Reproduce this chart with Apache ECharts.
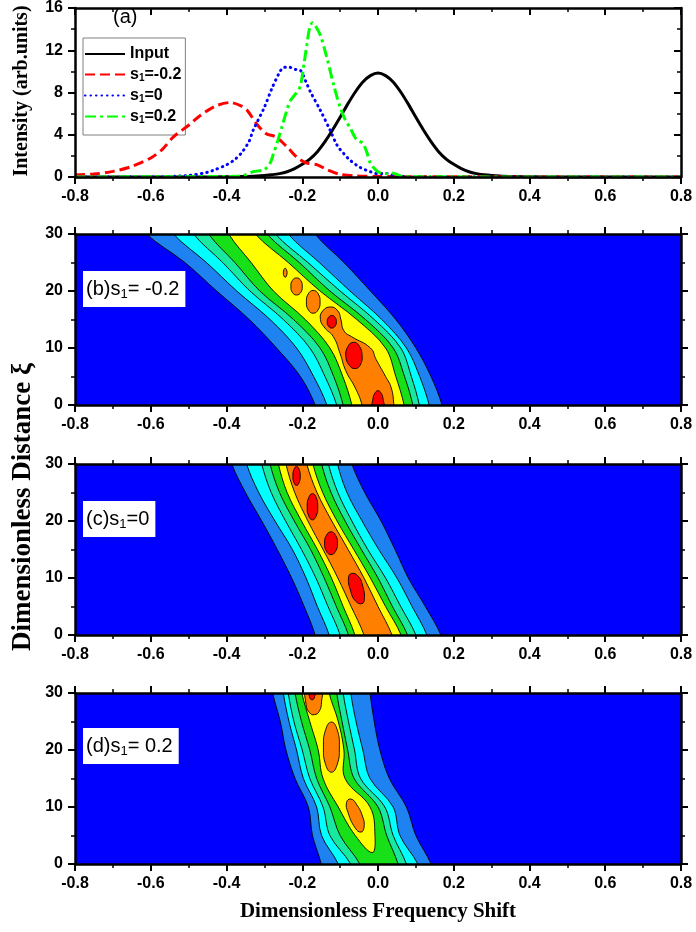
<!DOCTYPE html>
<html><head><meta charset="utf-8">
<script src="https://cdn.jsdelivr.net/npm/echarts/dist/echarts.min.js"></script>
<style>html,body{margin:0;padding:0;background:#fff}#c{width:696px;height:932px}</style>
</head><body><div id="c"></div>
<script>
// ---------- Panel (a) curves: [frequency shift, intensity] ----------
const inputCurve = [[-0.8,0],[-0.5,0],[-0.4,0.02],[-0.36,0.05],[-0.32,0.1],[-0.3,0.15],[-0.28,0.22],[-0.26,0.32],[-0.24,0.5],[-0.22,0.8],[-0.2,1.2],[-0.18,1.7],[-0.16,2.4],[-0.14,3.35],[-0.12,4.45],[-0.1,5.65],[-0.08,6.9],[-0.06,8.05],[-0.04,9.0],[-0.02,9.6],[0,9.85],[0.02,9.6],[0.04,9.0],[0.06,8.05],[0.08,6.9],[0.1,5.65],[0.12,4.45],[0.14,3.35],[0.16,2.4],[0.18,1.7],[0.2,1.2],[0.22,0.8],[0.24,0.5],[0.26,0.32],[0.28,0.22],[0.3,0.15],[0.32,0.1],[0.36,0.05],[0.4,0.02],[0.5,0],[0.8,0]];
const sNeg02Curve = [[-0.8,0.2],[-0.75,0.28],[-0.7,0.53],[-0.65,1.0],[-0.6,1.8],[-0.57,2.6],[-0.54,3.8],[-0.5,4.9],[-0.47,5.8],[-0.43,6.7],[-0.39,7.05],[-0.36,6.7],[-0.345,6.3],[-0.32,5.0],[-0.295,4.1],[-0.27,3.8],[-0.24,2.85],[-0.215,1.9],[-0.19,1.35],[-0.16,1.15],[-0.135,0.7],[-0.1,0.25],[-0.06,0.1],[0,0.05],[0.1,0.02],[0.8,0]];
const sZeroCurve = [[-0.8,0],[-0.6,0],[-0.5,0.15],[-0.45,0.45],[-0.43,0.7],[-0.4,1.15],[-0.38,1.6],[-0.36,2.3],[-0.34,3.4],[-0.33,4.4],[-0.3,6.6],[-0.28,8.4],[-0.26,9.9],[-0.25,10.35],[-0.235,10.4],[-0.22,10.2],[-0.205,10.1],[-0.19,9.0],[-0.179,8.1],[-0.152,6.3],[-0.126,4.4],[-0.108,3.0],[-0.09,2.2],[-0.074,1.6],[-0.047,0.9],[-0.02,0.5],[0,0.3],[0.02,0.35],[0.04,0.15],[0.07,0.03],[0.1,0],[0.8,0]];
const sPos02Curve = [[-0.8,0],[-0.4,0.05],[-0.36,0.1],[-0.33,0.5],[-0.3,0.7],[-0.285,1.3],[-0.276,2.2],[-0.265,3.4],[-0.254,4.7],[-0.24,6.4],[-0.232,7.2],[-0.215,8.0],[-0.205,8.6],[-0.195,10.8],[-0.188,12.5],[-0.18,14.2],[-0.173,14.6],[-0.165,14.3],[-0.152,13.4],[-0.135,11.3],[-0.117,8.7],[-0.1,6.6],[-0.085,5.3],[-0.074,4.7],[-0.06,3.7],[-0.05,3.4],[-0.04,3.2],[-0.03,2.4],[-0.02,1.3],[0,0.5],[0.02,0.3],[0.04,0.35],[0.06,0.1],[0.1,0.02],[0.8,0]];
const seriesNames = ['Input','s1=-0.2','s1=0','s1=0.2'];

// ---------- Contour panels: rows of distance xi and level boundaries (frequency shift) ----------
const xiRows = [0,5,10,15,20,25,30];
const levelColors = ['#1E82F0','#00FFFF','#18E8A0','#18E018','#FFFF00','#FF8000','#FF0000'];
const bgColor = '#0000FF';

// (b) s1 = -0.2
const bMidblueL = [-0.166,-0.205,-0.268,-0.34,-0.426,-0.51,-0.611];
const bMidblueR = [0.169,0.14,0.10,0.047,-0.02,-0.09,-0.166];
const bCyanL = [-0.135,-0.17,-0.215,-0.285,-0.373,-0.453,-0.54];
const bCyanR = [0.135,0.11,0.075,0.01,-0.074,-0.155,-0.237];
const bMintL = [-0.109,-0.14,-0.18,-0.25,-0.338,-0.41,-0.487];
const bMintR = [0.109,0.088,0.06,-0.01,-0.1,-0.185,-0.271];
const bGreenL = [-0.092,-0.117,-0.153,-0.223,-0.312,-0.378,-0.447];
const bGreenR = [0.092,0.07,0.04,-0.033,-0.127,-0.208,-0.293];
const bYellowL = [-0.069,-0.093,-0.127,-0.192,-0.276,-0.335,-0.394];
const bYellowR = [0.069,0.047,0.02,-0.056,-0.153,-0.237,-0.324];
const bOrangeMain = [[0.042,-1],[-0.042,-1],[-0.042,0],[-0.06,3],[-0.085,6],[-0.1,9],[-0.118,12],[-0.14,13.5],[-0.152,15],[-0.146,16.5],[-0.125,17.2],[-0.106,16.5],[-0.098,15],[-0.09,13],[-0.07,12],[-0.02,10],[-0.005,8],[0.02,5],[0.035,3],[0.042,0]];
const bOrangeIsl1 = [[-0.171,20.1],[-0.158,19.5],[-0.153,18.1],[-0.158,16.7],[-0.171,16.1],[-0.184,16.7],[-0.189,18.1],[-0.184,19.5]];
const bOrangeIsl2 = [[-0.215,22.3],[-0.204,21.85],[-0.2,20.8],[-0.204,19.75],[-0.215,19.3],[-0.226,19.75],[-0.23,20.8],[-0.226,21.85]];
const bOrangeIsl3 = [[-0.245,24.0],[-0.24,23.2],[-0.245,22.4],[-0.25,23.2]];
const bRedIsl1 = [[0.014,-1],[-0.014,-1],[-0.013,1.2],[-0.007,2.2],[0,2.5],[0.007,2.2],[0.013,1.2]];
const bRedIsl2 = [[-0.065,11.0],[-0.05,10.4],[-0.042,8.7],[-0.047,7.0],[-0.06,6.4],[-0.075,6.9],[-0.085,8.6],[-0.079,10.3]];
const bRedIsl3 = [[-0.122,15.7],[-0.1135,15.38],[-0.11,14.6],[-0.1135,13.82],[-0.122,13.5],[-0.1305,13.82],[-0.134,14.6],[-0.1305,15.38]];

// (c) s1 = 0
const cMidblueL = [-0.166,-0.195,-0.228,-0.266,-0.307,-0.35,-0.386];
const cMidblueR = [0.166,0.125,0.08,0.045,0.008,-0.035,-0.069];
const cCyanL = [-0.129,-0.16,-0.19,-0.226,-0.272,-0.315,-0.347];
const cCyanR = [0.129,0.09,0.05,0.002,-0.042,-0.082,-0.107];
const cMintL = [-0.1,-0.132,-0.164,-0.202,-0.244,-0.282,-0.307];
const cMintR = [0.1,0.06,0.02,-0.027,-0.069,-0.106,-0.131];
const cGreenL = [-0.078,-0.11,-0.142,-0.178,-0.221,-0.26,-0.285];
const cGreenR = [0.078,0.038,0.0,-0.044,-0.087,-0.124,-0.149];
const cYellowL = [-0.061,-0.092,-0.123,-0.16,-0.202,-0.24,-0.263];
const cYellowR = [0.061,0.02,-0.02,-0.064,-0.108,-0.146,-0.172];
const cOrangeL = [-0.037,-0.071,-0.106,-0.145,-0.185,-0.22,-0.243];
const cOrangeR = [0.037,0.0,-0.037,-0.079,-0.122,-0.161,-0.188];
const cRedIsl1 = [[-0.215,29.55],[-0.2082,29.07],[-0.2053,27.9],[-0.2082,26.73],[-0.215,26.25],[-0.2218,26.73],[-0.2247,27.9],[-0.2218,29.07]];
const cRedIsl2 = [[-0.173,24.8],[-0.163,24.1],[-0.159,22.5],[-0.163,20.9],[-0.173,20.2],[-0.183,20.9],[-0.187,22.5],[-0.183,24.1]];
const cRedIsl3 = [[-0.124,18.1],[-0.112,17.5],[-0.107,16.1],[-0.112,14.7],[-0.124,14.1],[-0.136,14.7],[-0.141,16.1],[-0.136,17.5]];
const cRedIsl4 = [[-0.07,10.8],[-0.052,10.3],[-0.04,8.5],[-0.036,6.4],[-0.042,5.5],[-0.06,6.0],[-0.073,7.9],[-0.078,10.0]];

// (d) s1 = 0.2
const dMidblueL = [-0.15,-0.173,-0.184,-0.219,-0.243,-0.258,-0.278];
const dMidblueR = [0.14,0.1,0.075,0.03,0.005,-0.01,-0.021];
const dCyanL = [-0.105,-0.149,-0.162,-0.197,-0.215,-0.235,-0.25];
const dCyanR = [0.105,0.058,0.04,-0.021,-0.04,-0.058,-0.072];
const dMintL = [-0.072,-0.127,-0.145,-0.18,-0.2,-0.222,-0.237];
const dMintR = [0.075,0.04,0.018,-0.046,-0.062,-0.078,-0.092];
const dGreenL = [-0.048,-0.1,-0.127,-0.162,-0.18,-0.202,-0.219];
const dGreenR = [0.053,0.023,0.0,-0.063,-0.08,-0.095,-0.109];
const dYellow = [[-0.015,2],[-0.06,5],[-0.105,10],[-0.145,15],[-0.158,20],[-0.18,25],[-0.201,30],[-0.201,31.5],[-0.129,31.5],[-0.129,30],[-0.105,25],[-0.09,20],[-0.087,15],[-0.021,10],[-0.008,5]];
const dOrangeTop = [[-0.188,31.5],[-0.19,28],[-0.18,26.5],[-0.168,26.2],[-0.155,26.8],[-0.149,28.5],[-0.149,31.5]];
const dOrangeIsl1 = [[-0.123,24.9],[-0.108,23.6],[-0.102,20.5],[-0.108,17.4],[-0.123,16.1],[-0.138,17.4],[-0.144,20.5],[-0.138,23.6]];
const dOrangeIsl2 = [[-0.072,11.4],[-0.058,10.6],[-0.04,8.2],[-0.037,6.4],[-0.045,5.6],[-0.06,6.3],[-0.079,9.0],[-0.083,10.8]];
const dRedTop = [[-0.183,31.5],[-0.181,29.4],[-0.174,28.8],[-0.167,29.4],[-0.165,31.5]];

// axis ticks
const xTicks = {min:-0.8, max:0.8, step:0.2};
const yTicksA = {min:0, max:16, step:4};
const yTicksXi = {min:0, max:30, step:10};

// ---------- build ----------
const chart = echarts.init(document.getElementById('c'), null, {renderer:'canvas'});
const LFONT = 'Liberation Sans, Arial, sans-serif';
const SFONT = 'Liberation Serif, Times New Roman, serif';
const grids = [
  {left:75, top:5, width:606, height:172},
  {left:75, top:234, width:606, height:171, show:true, backgroundColor:bgColor, borderWidth:0},
  {left:75, top:464, width:606, height:171, show:true, backgroundColor:bgColor, borderWidth:0},
  {left:75, top:693, width:606, height:171, show:true, backgroundColor:bgColor, borderWidth:0}
];
function fmtX(v){ return Math.abs(v) < 1e-9 ? '0.0' : v.toFixed(1); }
const xAxes = [], yAxes = [];
grids.forEach((g, gi) => {
  const innerMirror = gi === 0;
  const common = {type:'value', gridIndex:gi, min:xTicks.min, max:xTicks.max, interval:xTicks.step, z:10,
    splitLine:{show:false},
    axisLine:{show:true, onZero:false, lineStyle:{color:'#000', width:2.5}},
    minorTick:{show:true, splitNumber:2, length:4, lineStyle:{color:'#000', width:1.5}},
  };
  xAxes.push(Object.assign({}, common, {position:'bottom',
    axisTick:{show:true, inside:false, length:7, lineStyle:{color:'#000', width:2}},
    axisLabel:{show:true, color:'#000', fontSize:16, fontWeight:'bold', fontFamily:LFONT, margin:12, formatter:fmtX}}));
  xAxes.push(Object.assign({}, common, {position:'top',
    axisTick:{show:true, inside:innerMirror, length:7, lineStyle:{color:'#000', width:2}},
    axisLabel:{show:false}}));
  const yt = gi === 0 ? yTicksA : yTicksXi;
  const ycommon = {type:'value', gridIndex:gi, min:yt.min, max:yt.max, interval:yt.step, z:10,
    splitLine:{show:false},
    axisLine:{show:true, onZero:false, lineStyle:{color:'#000', width:2.5}},
    minorTick:{show:true, splitNumber:2, length:4, lineStyle:{color:'#000', width:1.5}}};
  yAxes.push(Object.assign({}, ycommon, {position:'left',
    axisTick:{show:true, inside:false, length:7, lineStyle:{color:'#000', width:2}},
    axisLabel:{show:true, color:'#000', fontSize:16, fontWeight:'bold', fontFamily:LFONT, margin:12}}));
  yAxes.push(Object.assign({}, ycommon, {position:'right',
    axisTick:{show:true, inside:innerMirror, length:7, lineStyle:{color:'#000', width:2}},
    axisLabel:{show:false}}));
});

const series = [];
function lineSeries(name, data, color, width, type, cap){
  return {name, type:'line', xAxisIndex:0, yAxisIndex:0, data, symbol:'none', showSymbol:false, smooth:0.3,
    lineStyle:{color, width, type, cap: cap || 'butt'}, itemStyle:{color}, z:5, animation:false};
}
series.push(lineSeries(seriesNames[0], inputCurve, '#000000', 3, 'solid'));
series.push(lineSeries(seriesNames[1], sNeg02Curve, '#FF0000', 3, [10,5]));
series.push(lineSeries(seriesNames[2], sZeroCurve, '#0000FF', 3, [0.5,5], 'round'));
series.push(lineSeries(seriesNames[3], sPos02Curve, '#00FF00', 3, [11,4,3,4]));

function polySeries(g, pts, color, z, smooth){
  return {type:'custom', xAxisIndex:2*g, yAxisIndex:2*g, clip:true, z:z, silent:true, animation:false,
    data: pts, encode:{x:0, y:1},
    renderItem: function(params, api){
      if (params.dataIndex !== 0) return null;
      return {type:'polygon', shape:{points: pts.map(p => api.coord(p)), smooth: smooth},
        style:{fill:color, stroke:'#000', lineWidth:0.9}};
    }};
}
function bandPts(L, R){
  const pts = [];
  pts.push([L[0], -1.5]);
  L.forEach((x,i) => pts.push([x, xiRows[i]]));
  pts.push([L[L.length-1], 31.5]);
  pts.push([R[R.length-1], 31.5]);
  for (let i = R.length-1; i >= 0; i--) pts.push([R[i], xiRows[i]]);
  pts.push([R[0], -1.5]);
  return pts;
}
// panel b
[[bMidblueL,bMidblueR],[bCyanL,bCyanR],[bMintL,bMintR],[bGreenL,bGreenR],[bYellowL,bYellowR]].forEach((p,k)=>{
  series.push(polySeries(1, bandPts(p[0],p[1]), levelColors[k], 2+k, 0.35));
});
[bOrangeMain,bOrangeIsl1,bOrangeIsl2,bOrangeIsl3].forEach(p=>series.push(polySeries(1,p,levelColors[5],8,0.5)));
[bRedIsl1,bRedIsl2,bRedIsl3].forEach(p=>series.push(polySeries(1,p,levelColors[6],9,0.5)));
// panel c
[[cMidblueL,cMidblueR],[cCyanL,cCyanR],[cMintL,cMintR],[cGreenL,cGreenR],[cYellowL,cYellowR],[cOrangeL,cOrangeR]].forEach((p,k)=>{
  series.push(polySeries(2, bandPts(p[0],p[1]), levelColors[k], 2+k, 0.35));
});
[cRedIsl1,cRedIsl2,cRedIsl3,cRedIsl4].forEach(p=>series.push(polySeries(2,p,levelColors[6],9,0.5)));
// panel d
[[dMidblueL,dMidblueR],[dCyanL,dCyanR],[dMintL,dMintR],[dGreenL,dGreenR]].forEach((p,k)=>{
  series.push(polySeries(3, bandPts(p[0],p[1]), levelColors[k], 2+k, 0.35));
});
series.push(polySeries(3, dYellow, levelColors[4], 7, 0.4));
[dOrangeTop,dOrangeIsl1,dOrangeIsl2].forEach(p=>series.push(polySeries(3,p,levelColors[5],8,0.5)));
series.push(polySeries(3, dRedTop, levelColors[6], 9, 0.5));

const legendRich = {n:{fontSize:16, fontWeight:'bold', fontFamily:LFONT, color:'#000'},
                    s:{fontSize:10, fontWeight:'bold', fontFamily:LFONT, color:'#000', padding:[7,0,0,0]}};
function labelRich(size){ return {n:{fontSize:size, fontFamily:LFONT, color:'#000'}, s:{fontSize:Math.round(size*0.65), fontFamily:LFONT, color:'#000', padding:[11,0,0,0]}}; }

const option = {
  backgroundColor:'#fff',
  animation:false,
  grid: grids,
  xAxis: xAxes,
  yAxis: yAxes,
  legend: {data: seriesNames, left:83, top:38, orient:'vertical', itemWidth:40, itemHeight:14, itemGap:4.5,
    padding:[8,4,10,1], borderColor:'#808080', borderWidth:1, backgroundColor:'#fff',
    itemStyle:{opacity:0},
    textStyle:{fontSize:16, fontWeight:'bold', fontFamily:LFONT, color:'#000', rich:legendRich},
    formatter: function(name){
      if (name === 'Input') return '{n|Input}';
      return '{n|s}{s|1}{n|' + name.slice(2) + '}';
    }},
  series: series,
  graphic: [
    {type:'text', left:113, top:7, z:50, style:{text:'(a)', font:'20px '+LFONT, fill:'#000'}},
    {type:'text', x:83, y:271, z:50, style:{text:'{n|(b)s}{s|1}{n|= -0.2}', rich:labelRich(20), backgroundColor:'#fff', padding:[6,6,6,3]}},
    {type:'text', x:83, y:501, z:50, style:{text:'{n|(c)s}{s|1}{n|=0}', rich:labelRich(20), backgroundColor:'#fff', padding:[6,6,6,3]}},
    {type:'text', x:83, y:728, z:50, style:{text:'{n|(d)s}{s|1}{n|= 0.2}', rich:labelRich(20), backgroundColor:'#fff', padding:[6,6,6,3]}},
    {type:'text', x:22, y:91, rotation:Math.PI/2, z:50, style:{text:'Intensity (arb.units)', font:'bold 20px '+SFONT, fill:'#000', textAlign:'center', textVerticalAlign:'middle'}},
    {type:'text', x:23, y:507, rotation:Math.PI/2, z:50, style:{text:'Dimensionless Distance \u03BE', font:'bold 27px '+SFONT, fill:'#000', textAlign:'center', textVerticalAlign:'middle'}},
    {type:'text', x:378, y:912, z:50, style:{text:'Dimensionless Frequency Shift', font:'bold 21px '+SFONT, fill:'#000', textAlign:'center', textVerticalAlign:'middle'}}
  ]
};
chart.setOption(option);
</script></body></html>
